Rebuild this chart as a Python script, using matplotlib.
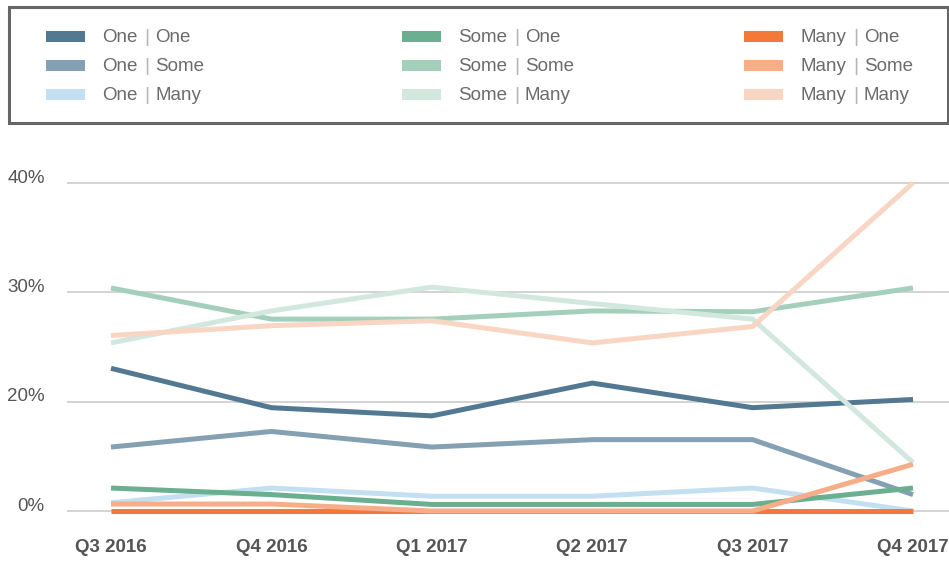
import matplotlib
matplotlib.use("Agg")
import matplotlib.pyplot as plt
from matplotlib.patches import Rectangle
from matplotlib.transforms import ScaledTranslation

quarters = ["Q3 2016", "Q4 2016", "Q1 2017", "Q2 2017", "Q3 2017", "Q4 2017"]

one_one   = [17.4, 12.6, 11.6, 15.6, 12.6, 13.6]
one_some  = [7.8, 9.7, 7.8, 8.7, 8.7, 2.0]
one_many  = [1.0, 2.8, 1.8, 1.8, 2.8, 0.0]
some_one  = [2.8, 2.0, 0.8, 0.8, 0.8, 2.8]
some_some = [27.2, 23.4, 23.4, 24.4, 24.3, 27.2]
some_many = [20.5, 24.4, 27.3, 25.3, 23.4, 5.9]
many_one  = [0.0, 0.0, 0.0, 0.0, 0.0, 0.0]
many_some = [0.85, 0.85, 0.0, 0.0, 0.0, 5.7]
many_many = [21.4, 22.6, 23.2, 20.5, 22.5, 40.0]

series_names = [("One", "One"), ("One", "Some"), ("One", "Many"),
                ("Some", "One"), ("Some", "Some"), ("Some", "Many"),
                ("Many", "One"), ("Many", "Some"), ("Many", "Many")]
series_values = [one_one, one_some, one_many, some_one, some_some, some_many,
                 many_one, many_some, many_many]
colors = ["#527991", "#85a0b2", "#c3dff2",
          "#6aaf8f", "#a4d0bb", "#d2e7de",
          "#f47937", "#f7ad88", "#f9d5c3"]

ytick_pos = [0, 40 / 3, 80 / 3, 40]
ytick_labels = ["0%", "20%", "30%", "40%"]

W, H = 949, 576
plt.rcParams['font.family'] = ['Liberation Sans', 'DejaVu Sans']
fig = plt.figure(figsize=(W / 100, H / 100), dpi=100)

def fx(px):
    return px / W

def fy(py):
    return 1 - py / H

ax_left, ax_right, ax_top, ax_bottom = 67, 949, 175, 520
ax = fig.add_axes([fx(ax_left), fy(ax_bottom), fx(ax_right - ax_left), (ax_bottom - ax_top) / H])

upp = 40 / 328.0
ax.set_ylim(-(ax_bottom - 511) * upp, 40 + (183 - ax_top) * upp)
xs = list(range(len(quarters)))
ax.set_xlim(-(111 - ax_left) / 160.4, 5 + (ax_right - 913) / 160.4)

for vals, c in zip(series_values, colors):
    ax.plot(xs, vals, color=c, lw=3.6, solid_capstyle='butt', solid_joinstyle='miter',
            clip_on=False, zorder=3)

ax.set_yticks(ytick_pos)
ax.set_yticklabels(ytick_labels)
ax.yaxis.grid(True, color="#cccccc", lw=1.2)
ax.set_axisbelow(True)
ax.tick_params(axis='y', length=0, pad=16, labelsize=13.5, labelcolor="#555555")
for lab in ax.get_yticklabels():
    lab.set_transform(lab.get_transform() + ScaledTranslation(0, 5 / 72, fig.dpi_scale_trans))

ax.set_xticks(xs)
ax.set_xticklabels(quarters, fontweight='bold')
ax.tick_params(axis='x', length=0, pad=14, labelsize=13.5, labelcolor="#555555")
for s in ax.spines.values():
    s.set_visible(False)
ax.patch.set_alpha(0)

# Legend box
fig.patches.append(Rectangle((fx(8.5), fy(123)), fx(948 - 8.5), (123 - 7.5) / H,
                             transform=fig.transFigure, fill=False,
                             edgecolor="#666666", lw=2.2))
renderer = fig.canvas.get_renderer()
col_x = [46, 402, 744]
row_y = [37.5, 66.5, 95.5]
for i, ((a, b), c) in enumerate(zip(series_names, colors)):
    col, row = divmod(i, 3)
    x0 = col_x[col]
    yc = row_y[row]
    fig.patches.append(Rectangle((fx(x0), fy(yc + 4)), fx(39), 11 / H,
                                 transform=fig.transFigure, facecolor=c, edgecolor='none'))
    t1 = fig.text(fx(x0 + 56), fy(yc), a, ha='left', va='center', fontsize=13.5,
                  color="#6b6b6b")
    w1 = t1.get_window_extent(renderer).width
    xb = x0 + 56 + w1 + 7
    fig.text(fx(xb), fy(yc), "|", ha='left', va='center', fontsize=14, color="#b5b5b5")
    fig.text(fx(xb + 11), fy(yc), b, ha='left', va='center', fontsize=13.5,
             color="#6b6b6b")

fig.savefig("out.png", dpi=100)
